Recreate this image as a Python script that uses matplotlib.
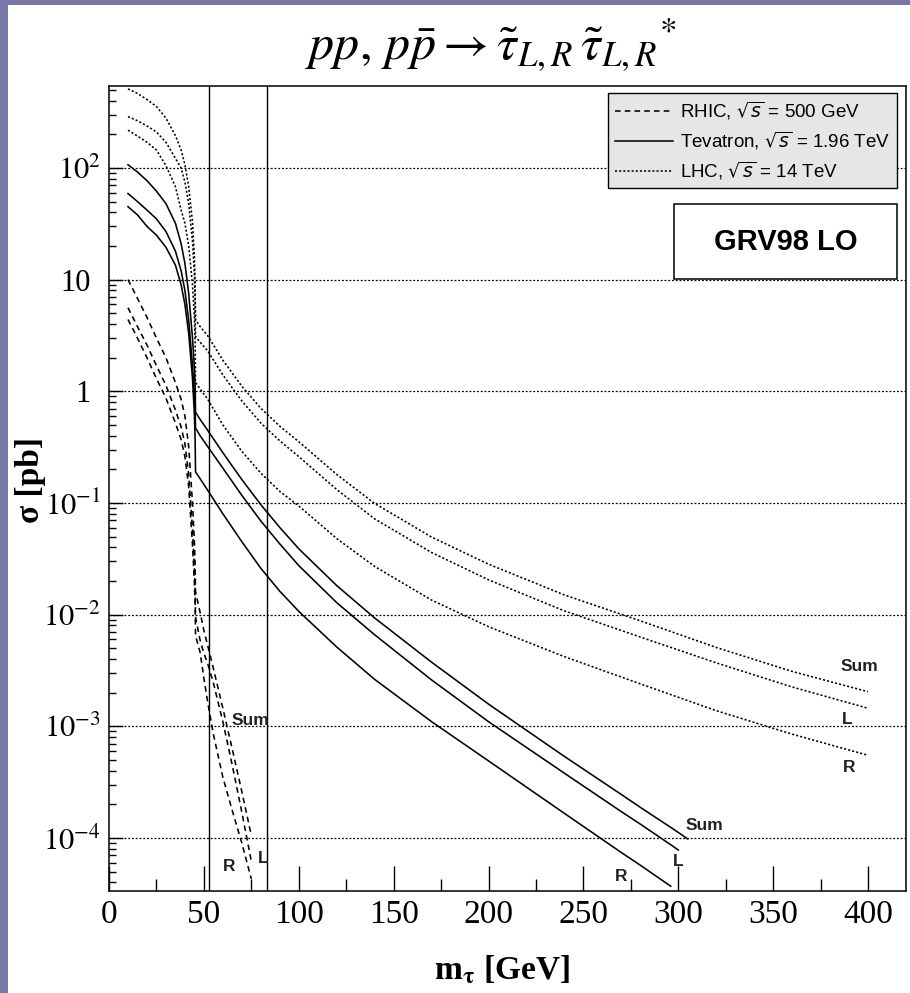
import matplotlib
matplotlib.use('Agg')
import matplotlib.pyplot as plt
import matplotlib.ticker as ticker
import matplotlib.transforms as mtransforms
from matplotlib.patches import Rectangle
from matplotlib.lines import Line2D
from matplotlib.font_manager import FontProperties
import numpy as np

# ---- data (sigma in pb, mass in GeV) ----
nan = np.nan

rhic_mass = [10, 15, 20, 25, 30, 35, 38, 40, 42, 44, 45, 45.4, 45.6, 48, 50, 52, 55, 60, 65, 70, 75]
rhic_sum = [10, 6.8, 4.6, 3.0, 2.0, 1.2, 0.85, 0.6, 0.32, 0.1, 0.045, 0.028, 0.016,
            0.0105, 0.0072, 0.0053, 0.0033, 0.00145, 6.2e-4, 2.6e-4, 1.05e-4]
rhic_L = [5.6, 3.8, 2.6, 1.7, 1.13, 0.68, 0.48, 0.34, 0.18, 0.058, 0.026, 0.016, 0.0095,
          0.0059, 0.0045, 0.00365, 0.00245, 0.0011, 4.45e-4, 1.7e-4, 6.2e-5]
rhic_R = [4.4, 3.0, 2.0, 1.3, 0.87, 0.52, 0.37, 0.26, 0.14, 0.042, 0.019, 0.012, 0.0065,
          0.0046, 0.0027, 0.00165, 8.5e-4, 3.5e-4, 1.75e-4, 9.0e-5, 4.3e-5]

tev_mass = [10, 15, 20, 25, 30, 35, 38, 40, 42, 44, 45, 45.4, 45.6, 48, 52, 60, 70, 80, 90,
            100, 120, 140, 170, 200, 240, 270, 280, 296, 300, 305]
tev_sum = [107, 92, 77, 62, 48, 32, 21, 14, 7.5, 3.0, 1.6, 1.1, 0.65, 0.56, 0.447, 0.282,
           0.162, 0.0966, 0.0603, 0.0389, 0.0182, 0.00933, 0.00375, 0.00158, 5.37e-4,
           2.45e-4, 1.88e-4, 1.245e-4, 1.12e-4, 9.8e-5]
tev_L = [59, 50, 42, 35, 27, 18, 12, 8, 4.3, 1.7, 0.95, 0.68, 0.47, 0.40, 0.32, 0.205,
         0.117, 0.069, 0.043, 0.0275, 0.0128, 0.0066, 0.0026, 1.1e-3, 3.8e-4,
         1.72e-4, 1.33e-4, 8.7e-5, 7.8e-5, nan]
tev_R = [45, 38, 30, 25, 19.5, 13.5, 9, 6, 3.3, 1.3, 0.62, 0.36, 0.19, 0.165, 0.13, 0.08,
         0.045, 0.026, 0.0162, 0.0107, 0.00513, 0.00263, 0.0011, 4.9e-4, 1.66e-4,
         7.4e-5, 5.7e-5, 3.7e-5, nan, nan]

lhc_mass = [10, 15, 20, 25, 30, 35, 38, 40, 42, 44, 45, 45.4, 45.6, 48, 52, 60, 70, 80, 90,
            100, 120, 140, 170, 200, 240, 280, 320, 360, 400]
lhc_sum = [510, 465, 410, 355, 280, 195, 145, 107, 68, 33, 16, 9, 4.4, 3.8, 3.15, 1.9,
           1.11, 0.705, 0.487, 0.354, 0.18, 0.099, 0.0495, 0.0283, 0.015, 0.0088,
           0.00508, 0.0031, 0.00204]
lhc_L = [288, 265, 238, 210, 170, 122, 100, 75, 48, 22, 11, 6.3, 3.1, 2.75, 2.3, 1.4,
         0.82, 0.52, 0.36, 0.26, 0.132, 0.072, 0.036, 0.0205, 0.0108, 0.0063,
         0.0037, 0.00225, 0.00145]
lhc_R = [218, 193, 170, 145, 105, 68, 42, 32, 20, 9, 4.6, 2.7, 1.2, 1.05, 0.85, 0.5,
         0.29, 0.185, 0.127, 0.094, 0.048, 0.027, 0.0135, 0.0078, 0.0042, 0.0024,
         0.00138, 0.00085, 0.00055]

limit_masses = [52.5, 83.0]

legend_labels = [r'RHIC, $\sqrt{s}$ = 500 GeV',
                 r'Tevatron, $\sqrt{s}$ = 1.96 TeV',
                 r'LHC, $\sqrt{s}$ = 14 TeV']

curve_labels = [('Sum', 395.7, 3.4e-3), ('L', 389, 1.15e-3), ('R', 390, 4.3e-4),
                ('Sum', 314, 1.3e-4), ('L', 300, 6.2e-5), ('R', 270, 4.5e-5),
                ('Sum', 74.3, 1.12e-3), ('L', 81.0, 6.6e-5), ('R', 63.2, 5.6e-5)]

yticks = [1e2, 1e1, 1, 1e-1, 1e-2, 1e-3, 1e-4]
ytick_labels = [r'$10^{2}$', '10', '1', r'$10^{-1}$', r'$10^{-2}$', r'$10^{-3}$', r'$10^{-4}$']
xticks = [0, 50, 100, 150, 200, 250, 300, 350, 400]

# ---- figure ----
plt.rcParams['mathtext.fontset'] = 'stix'
plt.rcParams['font.family'] = 'Liberation Serif'

W, H = 910, 993
fig = plt.figure(figsize=(W / 100, H / 100), dpi=100)
ax = fig.add_axes([109 / W, 1 - 891 / H, 797 / W, 805 / H])

border = '#7878a8'
fig.add_artist(Rectangle((0, 0), 8 / W, 1, transform=fig.transFigure,
                         facecolor=border, edgecolor='none', zorder=0))
fig.add_artist(Rectangle((0, 1 - 5 / H), 1, 5 / H, transform=fig.transFigure,
                         facecolor=border, edgecolor='none', zorder=0))

ls_rhic = (0, (3.5, 2.6))
ls_tev = '-'
ls_lhc = (0, (1.3, 1.3))
lw = 1.15

for m, curves, ls in [(rhic_mass, [rhic_sum, rhic_L, rhic_R], ls_rhic),
                      (tev_mass, [tev_sum, tev_L, tev_R], ls_tev),
                      (lhc_mass, [lhc_sum, lhc_L, lhc_R], ls_lhc)]:
    for c in curves:
        ax.plot(m, c, color='k', ls=ls, lw=lw, zorder=3)

for xm in limit_masses:
    ax.axvline(xm, color='k', lw=1.0, zorder=3)

ax.set_yscale('log')
ax.set_xlim(0, 420)
ax.set_ylim(3.35e-5, 542)

ax.set_xticks(xticks)
ax.xaxis.set_minor_locator(ticker.MultipleLocator(25))
ax.set_yticks(yticks, ytick_labels)
ax.yaxis.set_minor_locator(ticker.LogLocator(base=10, subs=np.arange(2, 10), numticks=20))
ax.yaxis.set_minor_formatter(ticker.NullFormatter())

ax.tick_params(axis='x', which='major', direction='in', length=18, width=1.0,
               labelsize=24, pad=6, top=False)
ax.tick_params(axis='x', which='minor', direction='in', length=8.5, width=1.0, top=False)
ax.tick_params(axis='y', which='major', direction='in', length=10, width=1.0,
               labelsize=22, pad=6, right=False)
ax.tick_params(axis='y', which='minor', direction='in', length=5, width=1.0, right=False)
for s in ax.spines.values():
    s.set_linewidth(1.1)

# plain "10" and "1" sit a little further left than the exponent labels
shift = mtransforms.ScaledTranslation(-0.10, 0, fig.dpi_scale_trans)
for tick in ax.yaxis.get_major_ticks()[1:3]:
    tick.label1.set_transform(tick.label1.get_transform() + shift)

ax.yaxis.grid(True, which='major', color='k', ls=(0, (1.5, 1.5)), lw=0.9)
ax.set_axisbelow(True)

# legend
handles = [Line2D([], [], color='k', ls=ls, lw=lw) for ls in (ls_rhic, ls_tev, ls_lhc)]
leg = ax.legend(handles, legend_labels, loc='upper right',
                bbox_to_anchor=(897 / W, 1 - 93 / H), bbox_transform=fig.transFigure,
                borderaxespad=0, fancybox=False, framealpha=1, facecolor='#e6e6e6',
                edgecolor='k',
                prop=FontProperties(family='Liberation Sans', size=13.5,
                                    math_fontfamily='dejavusans'),
                handlelength=3.1, handletextpad=0.4, labelspacing=0.42, borderpad=0.35)
leg.get_frame().set_linewidth(1.0)
leg.set_zorder(5)

# GRV98 LO box
ax.add_patch(Rectangle((0.709, 0.7602), 0.2797, 0.0932, transform=ax.transAxes,
                       facecolor='white', edgecolor='k', lw=1.1, zorder=5))
ax.text(0.8488, 0.806, 'GRV98 LO', transform=ax.transAxes, ha='center', va='center',
        fontsize=21, fontweight='bold', family='Liberation Sans', zorder=6)

for txt, xm, yv in curve_labels:
    ax.text(xm, yv, txt, ha='center', va='center', fontsize=12.5, fontweight='bold',
            family='Liberation Sans', color='#222222', zorder=4)

fig.text(491 / W, 1 - 45 / H,
         r'$pp,\, p\bar{p} \rightarrow \tilde{\tau}_{L,R}\,\tilde{\tau}_{L,R}{}^{*}$',
         ha='center', va='center', fontsize=36)
fig.text(30 / W, 1 - 480 / H, 'σ [pb]', rotation=90, ha='center', va='center',
         fontsize=24, fontweight='bold')
fig.text(502 / W, 1 - 970 / H, r'm$_{\mathbf{\tau}}$ [GeV]', ha='center', va='center',
         fontsize=24, fontweight='bold')

fig.savefig('out.png', dpi=100)
